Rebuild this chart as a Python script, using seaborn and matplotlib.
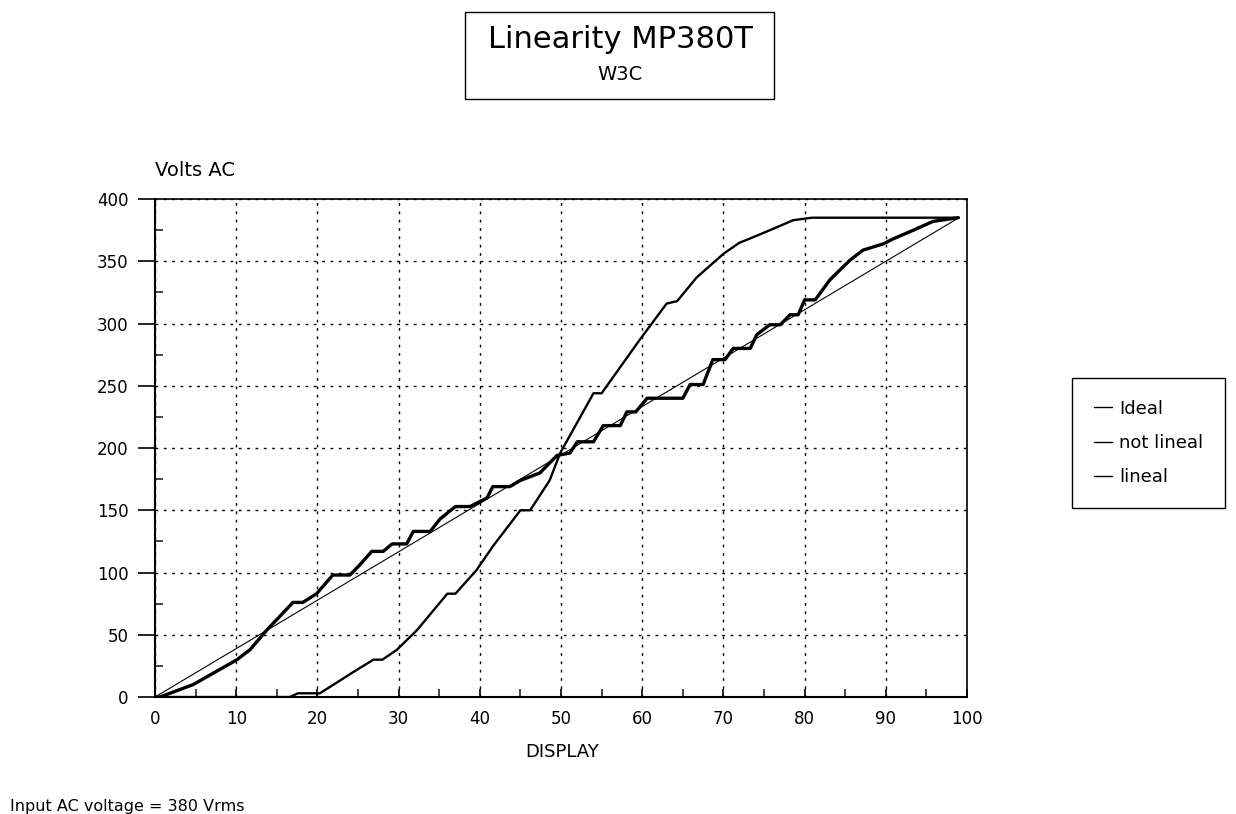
import numpy as np
import pandas as pd
import matplotlib
matplotlib.use("Agg")
import matplotlib.pyplot as plt
from matplotlib.patches import Rectangle
from matplotlib.ticker import MultipleLocator
import seaborn as sns

# Data (DISPLAY vs Volts AC)
ideal_x = [0, 99]
ideal_y = [0, 385]

not_lineal_x = [0, 16.6, 17.6, 20.3, 22, 24.4, 26.9, 28, 29.8, 32.3, 36, 37, 39.6, 41.6,
                45, 46.2, 48.6, 49.9, 54, 55, 59.7, 63, 64.3, 66.7, 70, 72, 72.8, 76.1,
                78.6, 80.9, 99]
not_lineal_y = [0, 0, 3, 3, 10, 20, 30, 30, 38, 54, 83, 83, 102, 121,
                150, 150, 174, 196, 244, 244, 287, 316, 318, 337, 356, 365, 367, 376,
                383, 385, 385]

lineal_x = [0, 0.6, 4.7, 10.1, 11.7, 13.8, 17, 18.2, 19.9, 21.9, 24, 25.2, 26.7, 28.1,
            29.2, 31, 31.8, 33.9, 35.1, 37, 38.8, 40.9, 41.6, 43.7, 45, 47.4, 49.5, 51.1,
            52, 54, 55.2, 57.3, 58.1, 59.2, 60.6, 65, 65.9, 67.5, 68.7, 70.2, 71.2, 73.3,
            74.1, 75.7, 77, 78.2, 79.2, 80, 81.3, 83.1, 85.6, 87.2, 89.7, 90.9, 93.4,
            95.8, 98.9]
lineal_y = [0, 0, 10, 30, 38, 54, 76, 76, 83, 98, 98, 106, 117, 117,
            123, 123, 133, 133, 143, 153, 153, 160, 169, 169, 174, 180, 194, 196,
            205, 205, 218, 218, 229, 229, 240, 240, 251, 251, 271, 271, 280, 280,
            291, 299, 299, 307, 307, 319, 319, 335, 351, 359, 364, 368, 375,
            382, 385]

sns.set_style("white")
plt.rcParams['font.family'] = ['DejaVu Sans']
plt.rcParams['text.color'] = 'black'

fig = plt.figure(figsize=(12.36, 8.14), dpi=100)
ax = fig.add_axes([0.1254, 0.1437, 0.657, 0.6118])

sns.lineplot(x=ideal_x, y=ideal_y, ax=ax, color="black", linewidth=0.8,
             estimator=None, sort=False, label="Ideal")
sns.lineplot(x=not_lineal_x, y=not_lineal_y, ax=ax, color="black", linewidth=1.7,
             estimator=None, sort=False, label="not lineal")
sns.lineplot(x=lineal_x, y=lineal_y, ax=ax, color="black", linewidth=2.4,
             estimator=None, sort=False, label="lineal")

ax.set_xlim(0, 100)
ax.set_ylim(0, 400)
ax.xaxis.set_major_locator(MultipleLocator(10))
ax.xaxis.set_minor_locator(MultipleLocator(5))
ax.yaxis.set_major_locator(MultipleLocator(50))
ax.yaxis.set_minor_locator(MultipleLocator(25))
ax.tick_params(axis="x", which="major", direction="in", length=6, width=1.2,
               labelsize=12, pad=9, colors="black")
ax.tick_params(axis="x", which="minor", direction="in", length=6, width=1.2)
ax.tick_params(axis="y", which="major", direction="out", length=12, width=1.2,
               labelsize=12, pad=7, colors="black")
ax.tick_params(axis="y", which="minor", direction="in", length=6, width=1.2)
ax.tick_params(bottom=True, left=True, which="both")

ax.grid(True, which="major", axis="both", color="black", linewidth=1.0,
        linestyle=(0, (2, 4)))
for sp in ax.spines.values():
    sp.set_color("black")
    sp.set_linewidth(1.2)
ax.spines["left"].set_linewidth(1.5)
ax.spines["bottom"].set_linewidth(1.5)

ax.set_xlabel("")
ax.set_ylabel("")

# legend
handles, labels = ax.get_legend_handles_labels()
ax.get_legend().remove()
leg = fig.legend(handles, labels, loc="upper left", bbox_to_anchor=(0.8673, 0.5356),
                 borderaxespad=0, fontsize=13, handlelength=1.0, handletextpad=0.4,
                 labelspacing=0.9, borderpad=1.2, fancybox=False, framealpha=1,
                 edgecolor="black")
leg.get_frame().set_linewidth(1.0)
for h in leg.legend_handles:
    h.set_linewidth(1.0)

# title box
fig.patches.append(Rectangle((0.376, 0.8784), 0.25, 0.1069, transform=fig.transFigure,
                             fill=False, edgecolor="black", linewidth=1.0))
fig.text(0.5016, 0.951, "Linearity MP380T", ha="center", va="center", fontsize=22)
fig.text(0.5016, 0.908, "W3C", ha="center", va="center", fontsize=14)

fig.text(0.1254, 0.791, "Volts AC", ha="left", va="center", fontsize=14)
fig.text(0.4547, 0.0762, "DISPLAY", ha="center", va="center", fontsize=13)
fig.text(0.008, 0.0098, "Input AC voltage = 380 Vrms", ha="left", va="center", fontsize=11.5)

fig.savefig("out.png", dpi=100)
